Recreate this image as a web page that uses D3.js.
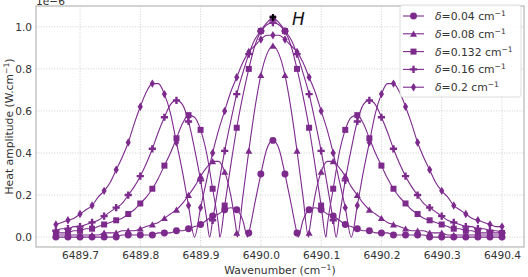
<!DOCTYPE html>
<html><head><meta charset="utf-8">
<script src="https://cdn.jsdelivr.net/npm/d3@7"></script>
<style>body{margin:0;background:#fff}svg{display:block}text{font-family:"DejaVu Sans",sans-serif}</style>
</head><body><svg id="c" width="528" height="277"></svg>
<script>
// ---- data (values in units of 1e-6 W.cm^-1) ----
const deltas=[0.04,0.08,0.132,0.16,0.2];
const labels=["0.04","0.08","0.132","0.16","0.2"];
const wavenumber=[6489.66,6489.67,6489.68,6489.69,6489.70,6489.71,6489.72,6489.73,6489.74,6489.75,6489.76,6489.77,6489.78,6489.79,6489.80,6489.81,6489.82,6489.83,6489.84,6489.85,6489.86,6489.87,6489.88,6489.89,6489.90,
6489.91,6489.92,6489.93,6489.94,6489.95,6489.96,6489.97,6489.98,6489.99,6490.00,6490.01,6490.02,6490.03,6490.04,6490.05,6490.06,6490.07,6490.08,6490.09,6490.10,6490.11,6490.12,6490.13,6490.14,6490.15,
6490.16,6490.17,6490.18,6490.19,6490.20,6490.21,6490.22,6490.23,6490.24,6490.25,6490.26,6490.27,6490.28,6490.29,6490.30,6490.31,6490.32,6490.33,6490.34,6490.35,6490.36,6490.37,6490.38,6490.39,6490.40];
const amp004=[0,0,0,0,0,0,0,0,0,0,0,0.01,0.01,0.01,0.01,0.01,0.01,0.02,0.02,0.02,0.03,0.03,0.04,0.05,0.06,
0.08,0.10,0.11,0.13,0.14,0.13,0.08,0.02,0.16,0.30,0.42,0.46,0.42,0.30,0.16,0.02,0.08,0.13,0.14,0.13,0.11,0.10,0.08,0.06,0.05,
0.04,0.03,0.03,0.02,0.02,0.02,0.01,0.01,0.01,0.01,0.01,0.01,0,0,0,0,0,0,0,0,0,0,0,0,0];
const amp008=[0.01,0.01,0.01,0.01,0.01,0.01,0.01,0.01,0.02,0.02,0.02,0.03,0.03,0.03,0.04,0.05,0.06,0.07,0.09,0.11,0.13,0.16,0.20,0.24,0.29,
0.33,0.36,0.36,0.31,0.20,0.02,0.19,0.41,0.61,0.77,0.87,0.91,0.87,0.77,0.61,0.41,0.19,0.02,0.20,0.31,0.36,0.36,0.33,0.29,0.24,
0.20,0.16,0.13,0.11,0.09,0.07,0.06,0.05,0.04,0.03,0.03,0.03,0.02,0.02,0.02,0.01,0.01,0.01,0.01,0.01,0.01,0.01,0.01,0.01,0.01];
const amp0132=[0.02,0.02,0.02,0.03,0.03,0.04,0.04,0.05,0.06,0.07,0.08,0.09,0.11,0.13,0.16,0.19,0.23,0.28,0.34,0.40,0.47,0.54,0.58,0.57,0.51,
0.40,0.23,0.05,0.15,0.34,0.52,0.67,0.80,0.91,0.98,1.02,1.04,1.02,0.98,0.91,0.80,0.67,0.52,0.34,0.15,0.05,0.23,0.40,0.51,0.57,
0.58,0.54,0.47,0.40,0.34,0.28,0.23,0.19,0.16,0.13,0.11,0.09,0.08,0.07,0.06,0.05,0.04,0.04,0.03,0.03,0.02,0.02,0.02,0.02,0.02];
const amp016=[0.03,0.04,0.04,0.05,0.05,0.06,0.07,0.08,0.10,0.12,0.14,0.16,0.20,0.24,0.29,0.35,0.42,0.50,0.57,0.63,0.65,0.63,0.55,0.42,0.27,
0.09,0.08,0.25,0.41,0.55,0.68,0.78,0.87,0.94,0.98,1.01,1.02,1.01,0.98,0.94,0.87,0.78,0.68,0.55,0.41,0.25,0.08,0.09,0.27,0.42,
0.55,0.63,0.65,0.63,0.57,0.50,0.42,0.35,0.29,0.24,0.20,0.16,0.14,0.12,0.10,0.08,0.07,0.06,0.05,0.05,0.04,0.04,0.03,0.03,0.02];
const amp02=[0.06,0.07,0.08,0.09,0.11,0.13,0.15,0.19,0.22,0.26,0.32,0.38,0.45,0.54,0.62,0.69,0.73,0.73,0.68,0.59,0.45,0.31,0.15,0,0.14,
0.27,0.40,0.51,0.60,0.69,0.76,0.83,0.88,0.91,0.94,0.96,0.96,0.96,0.94,0.91,0.88,0.83,0.76,0.69,0.60,0.51,0.40,0.27,0.14,0,
0.15,0.31,0.45,0.59,0.68,0.73,0.73,0.69,0.62,0.54,0.45,0.38,0.32,0.26,0.22,0.19,0.15,0.13,0.11,0.09,0.08,0.07,0.06,0.05,0.05];
const zeroCrossings=[[6489.978,6490.062],[6489.961,6490.079],[6489.932,6490.108],[6489.915,6490.125],[6489.890,6490.150]];
const amps=[amp004,amp008,amp0132,amp016,amp02];
const hPoint={wavenumber:6490.02,amp:1.045,label:"H"};
const xTicks=[6489.7,6489.8,6489.9,6490.0,6490.1,6490.2,6490.3,6490.4];
const yTicks=[0,0.2,0.4,0.6,0.8,1.0];

// ---- drawing ----
const col="#7d2a8d", txt="#333";
const svg=d3.select("#c");
const L=36,R=524,T=6,B=247;
const x=d3.scaleLinear().domain([6489.627,6490.4365]).range([L,R]);
const y=d3.scaleLinear().domain([-0.047,1.099]).range([B,T]);

const grid=svg.append("g");
grid.selectAll(null).data(xTicks).join("line").attr("x1",d=>x(d)).attr("x2",d=>x(d)).attr("y1",T).attr("y2",B);
grid.selectAll(null).data(yTicks).join("line").attr("y1",d=>y(d)).attr("y2",d=>y(d)).attr("x1",L).attr("x2",R);
grid.selectAll("line").attr("stroke","#c4c4c4").attr("stroke-width",0.8).attr("stroke-dasharray","1,1.6");

const xAxis=svg.append("g").attr("transform",`translate(0,${B})`).call(d3.axisBottom(x).tickValues(xTicks).tickFormat(d3.format(".1f")).tickSize(0).tickPadding(4.5));
const yAxis=svg.append("g").attr("transform",`translate(${L},0)`).call(d3.axisLeft(y).tickValues(yTicks).tickFormat(d3.format(".1f")).tickSize(0).tickPadding(4));
[xAxis,yAxis].forEach(a=>{a.select(".domain").remove();a.selectAll("text").attr("fill",txt).style("font-size","10.6px").style("font-family","DejaVu Sans");});

const markers=[
 d3.symbol(d3.symbolCircle,38)(),
 "M0,-3.3L3.5,2.9L-3.5,2.9Z",
 "M-3,-3h6v6h-6Z",
 "M-1.2,-3.6h2.4v2.4h2.4v2.4h-2.4v2.4h-2.4v-2.4h-2.4v-2.4h2.4Z",
 "M0,-4.2L2.6,0L0,4.2L-2.6,0Z"
];
const line=d3.line().x(d=>x(d[0])).y(d=>y(d[1])).curve(d3.curveMonotoneX);
amps.forEach((vals,i)=>{
 let pts=wavenumber.map((w,k)=>[w,vals[k]]);
 zeroCrossings[i].forEach(z=>{if(!pts.some(p=>Math.abs(p[0]-z)<1e-6))pts.push([z,0]);});
 pts.sort((a,b)=>a[0]-b[0]);
 const g=svg.append("g");
 g.append("path").attr("d",line(pts)).attr("fill","none").attr("stroke",col).attr("stroke-width",1.1);
 const mk=wavenumber.map((w,k)=>[w,vals[k]]).filter((d,k)=>k%2===0);
 g.selectAll(null).data(mk).join("path").attr("d",markers[i]).attr("transform",d=>`translate(${x(d[0])},${y(d[1])})`).attr("fill",col);
});

// spines
svg.append("rect").attr("x",L).attr("y",T).attr("width",R-L).attr("height",B-T).attr("fill","none").attr("stroke","#a8a8a8").attr("stroke-width",1);

// H point
svg.append("path").attr("d","M-1,-3.4h2v2.4h2.4v2h-2.4v2.4h-2v-2.4h-2.4v-2h2.4Z").attr("transform",`translate(${x(hPoint.wavenumber)},${y(hPoint.amp)})`).attr("fill","#000");
svg.append("text").attr("x",x(hPoint.wavenumber)+19).attr("y",y(hPoint.amp)+8).style("font-size","17px").style("font-style","italic").attr("fill","#111").text(hPoint.label);

// offset text
svg.append("text").attr("x",L).attr("y",4.5).style("font-size","10.6px").attr("fill",txt).text("1e\u22126");

function supText(sel,parts){parts.forEach(p=>{const t=sel.append("tspan").text(p.t);if(p.it)t.style("font-style","italic");if(p.sup)t.attr("dy",-4).style("font-size","7.6px");if(p.down)t.attr("dy",4);});return sel;}
// axis labels
supText(svg.append("text").attr("x",(L+R)/2).attr("y",274).attr("text-anchor","middle").style("font-size","10.8px").attr("fill",txt),[{t:"Wavenumber (cm"},{t:"\u22121",sup:true},{t:")",down:true}]);
supText(svg.append("text").attr("transform",`translate(13,${(T+B)/2}) rotate(-90)`).attr("text-anchor","middle").style("font-size","10.8px").attr("fill",txt),[{t:"Heat amplitude (W.cm"},{t:"\u22121",sup:true},{t:")",down:true}]);

// legend
const lg=svg.append("g");
lg.append("rect").attr("x",400).attr("y",5).attr("width",121).attr("height",92).attr("rx",2.5).attr("fill","#fff").attr("fill-opacity",0.85).attr("stroke","#d4d4d4").attr("stroke-width",0.8);
deltas.forEach((d,i)=>{
 const cy=16+i*17.8;
 lg.append("line").attr("x1",403).attr("x2",424).attr("y1",cy).attr("y2",cy).attr("stroke",col).attr("stroke-width",1.1);
 lg.append("path").attr("d",markers[i]).attr("transform",`translate(413.5,${cy})`).attr("fill",col);
 supText(lg.append("text").attr("x",435).attr("y",cy+4).style("font-size","10.8px").attr("fill",txt),[{t:"\u03b4",it:true},{t:"="+labels[i]+" cm"},{t:"\u22121",sup:true}]);
});
</script></body></html>
